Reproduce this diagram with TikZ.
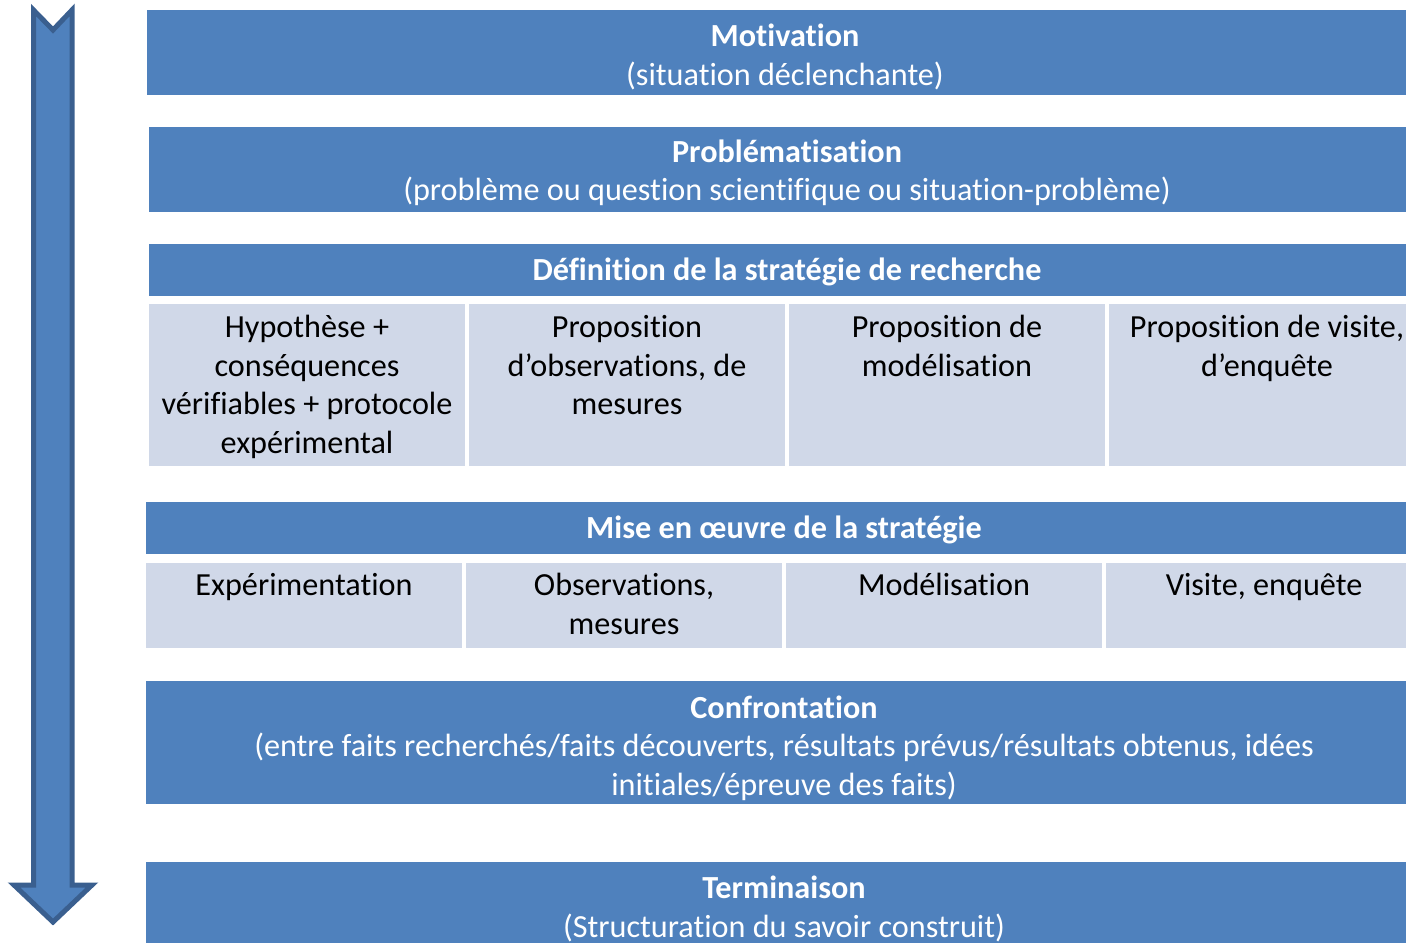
\documentclass[tikz,border=0pt]{standalone}
\usepackage{fontspec}
\setmainfont{Carlito}[Ligatures=NoCommon]
\definecolor{dkblue}{HTML}{4F81BD}
\definecolor{ltblue}{HTML}{D0D8E8}
\definecolor{arrline}{HTML}{3A5F8F}
\begin{document}
\begin{tikzpicture}[x=0.5pt,y=-0.5pt,
  hdr/.style={fill=dkblue,draw=none,inner sep=0pt,anchor=north west},
  cell/.style={fill=ltblue,draw=none,inner sep=0pt,anchor=north west},
  wtxt/.style={text=white,align=center,inner sep=0pt,font=\fontsize{16.1}{19.25}\selectfont},
  btxt/.style={text=black,align=center,inner sep=0pt,font=\fontsize{16.1}{19.25}\selectfont,anchor=north},
]
\useasboundingbox (0,0) rectangle (1406,943);
% arrow
\draw[fill=dkblue,draw=arrline,line width=2.5pt,line join=miter]
  (33.5,10) -- (53,30) -- (72,10) -- (72,885) -- (92,885) -- (53,922) -- (14,885) -- (33.5,885) -- cycle;
% Motivation
\node[hdr,minimum width=629.5pt,minimum height=42.5pt] (mot) at (147,10) {};
\node[wtxt] (motT) at (785,57) {\textbf{Motivation}\\(situation déclenchante)};
% Problematisation
\node[hdr,minimum width=628.5pt,minimum height=42.5pt] (prob) at (149,127) {};
\node[wtxt] (probT) at (787,173) {\textbf{Problématisation}\\(problème ou question scientifique ou situation-problème)};
% Definition
\node[hdr,minimum width=628.5pt,minimum height=26pt] (def) at (149,244) {};
\node[wtxt] (defT) at (787,272) {\textbf{Définition de la stratégie de recherche}};
\node[cell,minimum width=158pt,minimum height=81pt] (d1) at (149,304) {};
\node[cell,minimum width=158pt,minimum height=81pt] (d2) at (469,304) {};
\node[cell,minimum width=158pt,minimum height=81pt] (d3) at (789,304) {};
\node[cell,minimum width=148.5pt,minimum height=81pt] (d4) at (1109,304) {};
\node[btxt] (d1T) at (307,315) {Hypothèse +\\conséquences\\vérifiables + protocole\\expérimental};
\node[btxt] (d2T) at (627,315) {Proposition\\d’observations, de\\mesures};
\node[btxt] (d3T) at (947,315) {Proposition de\\modélisation};
\node[btxt] (d4T) at (1267,315) {Proposition de visite,\\d’enquête};
% Mise en oeuvre
\node[hdr,minimum width=630pt,minimum height=26pt] (mise) at (146,502) {};
\node[wtxt] (miseT) at (784,530) {\textbf{Mise en œuvre de la stratégie}};
\node[cell,minimum width=158pt,minimum height=42.5pt] (m1) at (146,563) {};
\node[cell,minimum width=158pt,minimum height=42.5pt] (m2) at (466,563) {};
\node[cell,minimum width=158pt,minimum height=42.5pt] (m3) at (786,563) {};
\node[cell,minimum width=150pt,minimum height=42.5pt] (m4) at (1106,563) {};
\node[btxt] (m1T) at (304,573) {Expérimentation};
\node[btxt] (m2T) at (624,573) {Observations,\\mesures};
\node[btxt] (m3T) at (944,573) {Modélisation};
\node[btxt] (m4T) at (1264,573) {Visite, enquête};
% Confrontation
\node[hdr,minimum width=630pt,minimum height=61.5pt] (conf) at (146,681) {};
\node[wtxt] (confT) at (784,748) {\textbf{Confrontation}\\(entre faits recherchés/faits découverts, résultats prévus/résultats obtenus, idées\\initiales/épreuve des faits)};
% Terminaison
\node[hdr,minimum width=630pt,minimum height=40.5pt] (term) at (146,862) {};
\node[wtxt] (termT) at (784,909) {\textbf{Terminaison}\\(Structuration du savoir construit)};
\end{tikzpicture}
\end{document}
